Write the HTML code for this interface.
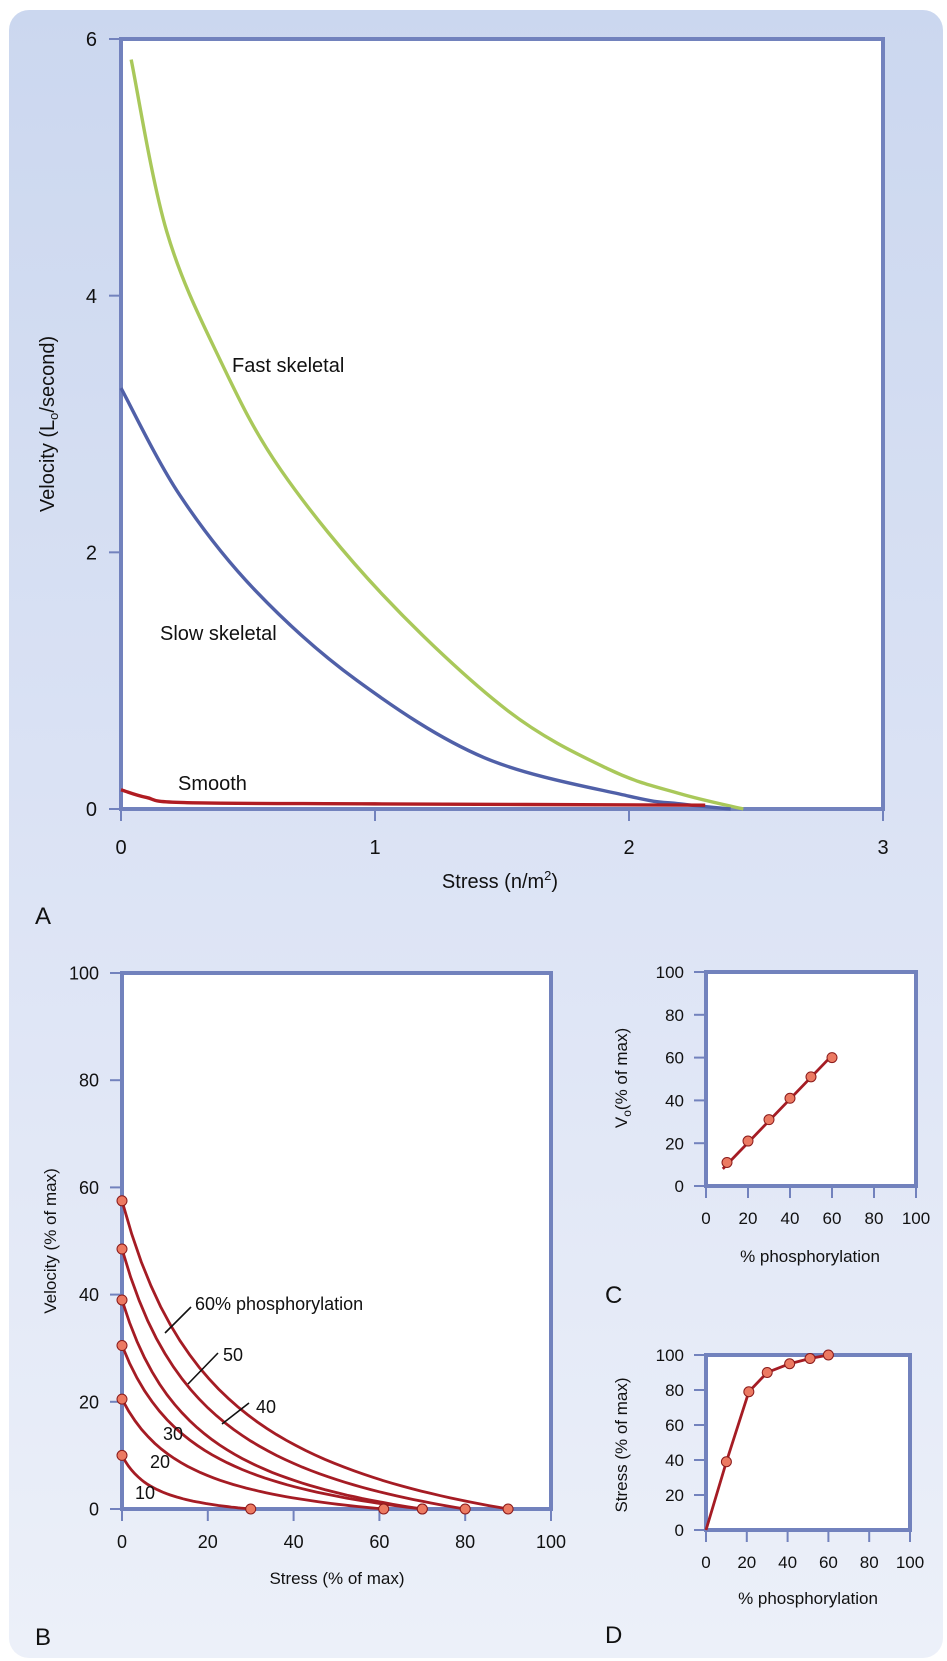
<!DOCTYPE html>
<html><head><meta charset="utf-8"><style>
html,body{margin:0;padding:0;background:#fff}
svg{display:block;font-family:"Liberation Sans",Arial,sans-serif}
</style></head><body>
<svg id="fig" width="947" height="1661" viewBox="0 0 947 1661">
<defs><linearGradient id="bg" x1="0" y1="0" x2="0" y2="1"><stop offset="0" stop-color="#cbd7ef"/><stop offset="0.55" stop-color="#dde4f5"/><stop offset="1" stop-color="#ecf0f9"/></linearGradient></defs>
<rect x="9" y="10" width="934" height="1648" rx="20" fill="url(#bg)"/>
<g id="A"></g>
<g id="B"></g>
<g id="C"></g>
<g id="D"></g>
</svg>
<script>
// Panel A data
const aXTicks=[0,1,2,3];
const aYTicks=[0,2,4,6];
const fastStress=[0.04,0.18,0.39,0.63,1.03,1.52,1.92,2.2,2.45];
const fastVel=[5.84,4.5,3.5,2.64,1.67,0.77,0.31,0.12,0];
const slowStress=[0,0.23,0.53,0.93,1.43,2.0,2.2,2.4];
const slowVel=[3.28,2.45,1.7,1.0,0.4,0.1,0.04,0];
const smoothStress=[0,0.1,0.25,1.0,2.3];
const smoothVel=[0.15,0.09,0.05,0.04,0.03];
// Panel B data
const phosLevels=[10,20,30,40,50,60];
const bV0=[10,20.5,30.5,39,48.5,57.5];
const bPmax=[30,61,70,70,80,90];
const bTicks=[0,20,40,60,80,100];
// Panel C data
const cPhos=[10,20,30,40,50,60];
const cV0=[11,21,31,41,51,60];
const cLineX=[8,60];
const cLineY=[8,61];
// Panel D data
const dPhos=[0,10,21,30,41,51,60];
const dStress=[0,39,79,90,95,98,100];

const NS="http://www.w3.org/2000/svg";
const AX="#7282bd", RED="#a51c24", DOT="#ec7a62";
function mk(parent,tag,attrs,text){const e=document.createElementNS(NS,tag);for(const k in attrs)e.setAttribute(k,attrs[k]);if(text!==undefined)e.textContent=text;parent.appendChild(e);return e;}
function scale(d0,d1,r0,r1){return v=>r0+(v-d0)/(d1-d0)*(r1-r0);}
function smoothPath(pts){let d="M"+pts[0][0]+","+pts[0][1];for(let i=0;i<pts.length-1;i++){const p0=pts[Math.max(0,i-1)],p1=pts[i],p2=pts[i+1],p3=pts[Math.min(pts.length-1,i+2)];const c1=[p1[0]+(p2[0]-p0[0])/6,p1[1]+(p2[1]-p0[1])/6],c2=[p2[0]-(p3[0]-p1[0])/6,p2[1]-(p3[1]-p1[1])/6];d+=" C"+c1[0]+","+c1[1]+" "+c2[0]+","+c2[1]+" "+p2[0]+","+p2[1];}return d;}

function frame(g,x0,y0,x1,y1,xt,yt,sx,sy,fs,name,xoff,ygap){
  let r=mk(g,"rect",{x:x0,y:y0,width:x1-x0,height:y1-y0,fill:"#fff",stroke:AX,"stroke-width":4});
  
  
  xt.forEach(t=>{const x=sx(t);
    let l=mk(g,"line",{x1:x,x2:x,y1:y1,y2:y1+12,stroke:AX,"stroke-width":2});
    
    
    let tx=mk(g,"text",{x:x,y:y1+xoff,"font-size":fs,"text-anchor":"middle",fill:"#111"},t);
    
    });
  yt.forEach(t=>{const y=sy(t);
    let l=mk(g,"line",{x1:x0-12,x2:x0,y1:y,y2:y,stroke:AX,"stroke-width":2});
    
    
    let tx=mk(g,"text",{x:x0-ygap,y:y+fs*0.36,"font-size":fs,"text-anchor":"end",fill:"#111"},t);
    
    });
}
function label(g,x,y,txt,fs,name,anchor){const t=mk(g,"text",{x:x,y:y,"font-size":fs,fill:"#111","text-anchor":anchor||"start"},txt);
  
  return t;}
function ytitle(g,x,y,fs,name){const t=mk(g,"text",{x:0,y:0,"font-size":fs,fill:"#111","text-anchor":"middle",transform:"translate("+x+","+y+") rotate(-90)"});
  
  return t;}
function dot(g,x,y,name){const c=mk(g,"circle",{cx:x,cy:y,r:5,fill:DOT,stroke:"#8a1a1a","stroke-width":1});
  
  }

// ---- Panel A
(function(){
  const g=document.getElementById("A");
  const sx=scale(0,3,121,883), sy=scale(0,6,809,39);
  frame(g,121,39,883,809,aXTicks,aYTicks,sx,sy,20,"a",45,24);
  const series=[[fastStress,fastVel,"#a9c85a","fast-skeletal-curve"],[slowStress,slowVel,"#5060a8","slow-skeletal-curve"],[smoothStress,smoothVel,"#b01c22","smooth-curve"]];
  series.forEach(s=>{const pts=s[0].map((v,i)=>[sx(v),sy(s[1][i])]);
    const p=mk(g,"path",{d:smoothPath(pts),fill:"none",stroke:s[2],"stroke-width":3.4});
    
    });
  label(g,232,372,"Fast skeletal",20,"fast-skeletal-label");
  label(g,160,640,"Slow skeletal",20,"slow-skeletal-label");
  label(g,178,790,"Smooth",20,"smooth-label");
  const yt=ytitle(g,54,424,20,"a-y-axis-title");
  yt.appendChild(document.createTextNode("Velocity (L"));
  mk(yt,"tspan",{"font-size":13,dy:4},"o");
  mk(yt,"tspan",{dy:-4},"/second)");
  const xt=label(g,500,888,"Stress (n/m",20,"a-x-axis-title","middle");
  mk(xt,"tspan",{"font-size":13,dy:-8},"2");
  mk(xt,"tspan",{dy:8},")");
  label(g,35,924,"A",24,"panel-a-letter");
})();

// ---- Panel B
(function(){
  const g=document.getElementById("B");
  const sx=scale(0,100,122,551), sy=scale(0,100,1509,973);
  frame(g,122,973,551,1509,bTicks,bTicks,sx,sy,18,"b",39,23);
  const K=0.27;
  phosLevels.forEach((p,i)=>{const V0=bV0[i],P0=bPmax[i];const pts=[];
    for(let j=0;j<=40;j++){const x=j/40;pts.push([sx(x*P0),sy(V0*(1-x)/(1+x/K))]);}
    const path=mk(g,"path",{d:"M"+pts.map(q=>q[0].toFixed(1)+","+q[1].toFixed(1)).join(" L"),fill:"none",stroke:RED,"stroke-width":2.8});
    
    });
  phosLevels.forEach((p,i)=>{dot(g,sx(0),sy(bV0[i]),'v0-point-'+p);dot(g,sx(bPmax[i]),sy(0),'pmax-point-'+p);});
  [[165,1333,191,1307],[188,1384,218,1353],[222,1424,249,1403]].forEach(l=>{const e=mk(g,"line",{x1:l[0],y1:l[1],x2:l[2],y2:l[3],stroke:"#111","stroke-width":1.6});
    
    });
  label(g,195,1310,"60% phosphorylation",18,"label-60");
  label(g,223,1361,"50",18,"label-50");
  label(g,256,1413,"40",18,"label-40");
  label(g,163,1440,"30",18,"label-30");
  label(g,150,1468,"20",18,"label-20");
  label(g,135,1499,"10",18,"label-10");
  ytitle(g,56,1241,17,"b-y-axis-title").textContent="Velocity (% of max)";
  label(g,337,1584,"Stress (% of max)",17,"b-x-axis-title","middle");
  label(g,35,1645,"B",24,"panel-b-letter");
})();

// ---- Panel C
(function(){
  const g=document.getElementById("C");
  const sx=scale(0,100,706,916), sy=scale(0,100,1186,972);
  frame(g,706,972,916,1186,bTicks,bTicks,sx,sy,17,"c",38,22);
  const l=mk(g,"line",{x1:sx(cLineX[0]),y1:sy(cLineY[0]),x2:sx(cLineX[1]),y2:sy(cLineY[1]),stroke:RED,"stroke-width":2.8});
  
  
  cPhos.forEach((p,i)=>dot(g,sx(p),sy(cV0[i]),'c-point-'+p));
  const yt=ytitle(g,627,1078,17,"c-y-axis-title");
  yt.appendChild(document.createTextNode("V"));
  mk(yt,"tspan",{"font-size":12,dy:4},"o");
  mk(yt,"tspan",{dy:-4},"(% of max)");
  label(g,810,1262,"% phosphorylation",17,"c-x-axis-title","middle");
  label(g,605,1303,"C",24,"panel-c-letter");
})();

// ---- Panel D
(function(){
  const g=document.getElementById("D");
  const sx=scale(0,100,706,910), sy=scale(0,100,1530,1355);
  frame(g,706,1355,910,1530,bTicks,bTicks,sx,sy,17,"d",38,22);
  const p=mk(g,"path",{d:"M"+dPhos.map((v,i)=>sx(v)+","+sy(dStress[i])).join(" L"),fill:"none",stroke:RED,"stroke-width":2.8});
  
  
  dPhos.forEach((v,i)=>{if(i>0)dot(g,sx(v),sy(dStress[i]),'d-point-'+v);});
  ytitle(g,627,1445,17,"d-y-axis-title").textContent="Stress (% of max)";
  label(g,808,1604,"% phosphorylation",17,"d-x-axis-title","middle");
  label(g,605,1643,"D",24,"panel-d-letter");
})();
</script>
</body></html>
